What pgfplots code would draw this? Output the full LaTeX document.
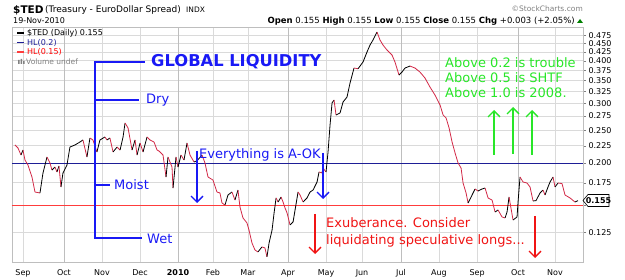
\documentclass[border=0pt]{standalone}
\usepackage{fontspec}
\setmainfont{DejaVu Sans}
\usepackage{pgfplots}
\pgfplotsset{compat=1.18}
\usepackage{pgfplotstable}
\usetikzlibrary{arrows.meta}
\definecolor{annblue}{RGB}{25,25,245}
\definecolor{hlnavy}{RGB}{30,30,150}
\definecolor{hlred}{RGB}{255,60,60}
\definecolor{anngreen}{RGB}{40,230,40}
\definecolor{annred}{RGB}{240,20,20}
\definecolor{tedred}{RGB}{210,40,70}
\definecolor{gridgray}{RGB}{218,218,218}
\definecolor{qgray}{RGB}{190,190,190}

\pgfplotstableread{
x y m
-6.4 0.2260 0
-4.0 0.2214 0
-1.6 0.2111 1
0.0 0.2184 0
1.6 0.2041 0
4.0 0.1973 0
7.2 0.1819 0
9.6 0.1643 0
13.6 0.1632 1
16.0 0.1869 1
19.2 0.2083 0
21.6 0.2000 0
23.2 0.1907 1
25.6 0.1946 0
27.2 0.1882 1
28.8 0.1960 0
30.4 0.1700 1
32.0 0.1869 1
35.2 0.1973 1
37.6 0.2229 1
41.6 0.2260 1
45.6 0.2306 1
48.0 0.2338 0
51.2 0.2083 1
53.6 0.2369 0
56.0 0.2338 0
59.2 0.2155 1
61.6 0.2338 1
65.6 0.2386 0
67.2 0.2338 1
69.6 0.2369 0
72.1 0.2155 1
75.3 0.2229 0
77.7 0.2184 1
80.1 0.2386 1
81.7 0.2623 0
84.1 0.2536 0
87.3 0.2184 1
89.7 0.2338 0
91.3 0.2111 1
93.7 0.2290 0
96.1 0.2155 1
99.3 0.2386 0
101.7 0.2338 0
104.9 0.2306 0
107.3 0.2184 0
108.9 0.2170 0
112.1 0.2111 0
114.5 0.1819 1
116.1 0.2083 0
119.3 0.1946 0
120.1 0.1688 1
122.5 0.2083 0
124.1 0.1946 1
126.5 0.2111 0
128.9 0.2041 1
131.3 0.2290 0
133.7 0.2111 0
136.9 0.2014 1
139.3 0.2030 1
143.3 0.2111 0
145.7 0.2000 0
148.1 0.1819 0
152.1 0.1782 0
155.3 0.1643 0
157.7 0.1632 0
159.3 0.1525 0
161.7 0.1504 1
164.1 0.1610 1
167.3 0.1643 0
169.7 0.1556 1
172.1 0.1665 0
173.7 0.1484 0
176.1 0.1378 0
179.3 0.1332 0
180.9 0.1270 0
183.3 0.1163 0
185.7 0.1109 0
188.1 0.1094 1
191.3 0.1132 0
193.7 0.1124 0
195.3 0.1058 1
197.0 0.1163 1
199.4 0.1270 1
201.0 0.1425 1
202.6 0.1578 0
204.2 0.1535 1
206.6 0.1588 0
208.2 0.1535 0
209.8 0.1474 0
211.4 0.1425 0
213.8 0.1314 1
216.2 0.1341 1
217.8 0.1454 1
220.2 0.1643 0
221.8 0.1610 0
224.2 0.1535 1
227.4 0.1578 1
229.8 0.1643 1
232.2 0.1665 1
235.4 0.1758 1
237.0 0.1882 0
239.4 0.1869 1
240.2 0.1933 0
242.6 0.1882 1
244.2 0.2155 1
245.8 0.2588 1
247.4 0.3004 1
249.0 0.3066 0
250.6 0.2769 1
253.8 0.2807 1
256.2 0.3024 1
259.4 0.3129 1
261.8 0.3440 1
265.0 0.3809 0
268.2 0.3790 1
272.2 0.3967 1
275.4 0.4245 1
277.8 0.4451 1
280.2 0.4605 1
283.4 0.4861 0
285.8 0.4605 0
288.2 0.4451 0
291.4 0.4303 0
295.4 0.4160 0
297.8 0.3967 0
301.0 0.3632 1
303.4 0.3706 1
305.8 0.3809 1
309.8 0.3860 0
313.8 0.3809 0
317.8 0.3706 0
321.8 0.3559 0
325.8 0.3348 0
329.8 0.3171 0
333.9 0.2963 0
336.3 0.2769 0
338.7 0.2714 0
341.1 0.2536 0
343.5 0.2306 0
345.9 0.2140 0
348.3 0.2000 0
350.7 0.1933 0
352.3 0.1746 0
354.7 0.1632 0
356.3 0.1525 1
359.5 0.1610 1
361.9 0.1677 0
364.3 0.1654 1
367.5 0.1677 1
369.9 0.1688 0
372.3 0.1578 0
375.5 0.1556 0
377.9 0.1435 1
380.3 0.1454 0
383.5 0.1387 0
385.9 0.1378 1
387.5 0.1435 1
389.1 0.1588 0
392.3 0.1359 1
395.5 0.1387 1
396.3 0.1535 1
397.9 0.1819 0
400.3 0.1758 0
403.5 0.1746 0
405.9 0.1700 0
408.3 0.1546 1
410.7 0.1550 1
413.9 0.1632 1
416.3 0.1665 0
417.9 0.1610 1
420.3 0.1700 1
421.9 0.1758 1
424.3 0.1819 0
425.9 0.1700 1
428.3 0.1746 0
431.5 0.1740 0
433.9 0.1610 0
437.9 0.1578 0
441.9 0.1535 1
444.3 0.1550 1
}\tedtable

\begin{document}
\begin{tikzpicture}
\useasboundingbox (0,0) rectangle (625pt,279pt);
\begin{axis}[
  at={(12pt,17pt)}, anchor=south west,
  scale only axis, width=571pt, height=235pt,
  xmin=-8.8, xmax=448.3,
  ymode=log, ymin=0.1022, ymax=0.503,
  axis line style={qgray},
  xtick={0,32.8,63.2,93.7,124.1,152.1,180.1,212.2,242.6,271.4,302.6,333.0,363.5,396.3,425.9},
  xticklabels={Sep,Oct,Nov,Dec,\textbf{2010},Feb,Mar,Apr,May,Jun,Jul,Aug,Sep,Oct,Nov},
  ytick={0.125,0.15,0.175,0.2,0.225,0.25,0.275,0.3,0.325,0.35,0.375,0.4,0.425,0.45,0.475},
  yticklabels={0.125,{},0.175,0.200,0.225,0.250,0.275,0.300,0.325,0.350,0.375,0.400,0.425,0.450,0.475},
  yticklabel pos=right, ytick pos=right,
  tick align=outside, major tick length=3pt,
  xtick style={draw=none}, ytick style={draw=gray},
  xmajorgrids, ymajorgrids, grid style={gridgray, line width=0.6pt},
  tick label style={font=\fontsize{8}{9}\selectfont},
  yticklabel style={xshift=-1pt},
  xticklabel style={yshift=-1pt},
  /pgf/number format/assume math mode=true,
  colormap={updown}{color=(tedred) color=(black)},
  clip=true,
]
\addplot[draw=qgray, line width=0.8pt, forget plot] coordinates {(32.8,0.1022) (32.8,0.503)};
\addplot[draw=qgray, line width=0.8pt, forget plot] coordinates {(124.1,0.1022) (124.1,0.503)};
\addplot[draw=qgray, line width=0.8pt, forget plot] coordinates {(212.2,0.1022) (212.2,0.503)};
\addplot[draw=qgray, line width=0.8pt, forget plot] coordinates {(302.6,0.1022) (302.6,0.503)};
\addplot[draw=qgray, line width=0.8pt, forget plot] coordinates {(396.3,0.1022) (396.3,0.503)};
\addplot[hlnavy, line width=0.9pt] coordinates {(-8.8,0.2) (448.3,0.2)};
\addplot[hlred, line width=0.9pt] coordinates {(-8.8,0.15) (448.3,0.15)};
\addplot[mesh, shader=flat corner, point meta=explicit, line width=0.8pt] table[x=x, y=y, meta=m] {\tedtable};
\end{axis}

\begin{scope}[x=1pt, y=-1pt, shift={(0pt,279pt)}]
% header
\node[anchor=west, inner sep=0pt, font=\fontsize{10.5}{12}\selectfont\bfseries] at (13,10) {\$TED};
\node[anchor=west, inner sep=0pt, font=\fontsize{9}{11}\selectfont] at (45,10) {(Treasury - EuroDollar Spread)};
\node[anchor=west, inner sep=0pt, font=\fontsize{7.5}{9}\selectfont] at (186,10) {INDX};
\node[anchor=west, inner sep=0pt, font=\fontsize{8}{9}\selectfont] at (13,21) {19-Nov-2010};
\node[anchor=east, inner sep=0pt, font=\fontsize{7.5}{9}\selectfont, text=gray] at (583,8.5) {©StockCharts.com};
\node[anchor=east, inner sep=0pt, font=\fontsize{8.5}{10}\selectfont] at (575,21) {\textbf{Open} 0.155 \textbf{High} 0.155 \textbf{Low} 0.155 \textbf{Close} 0.155 \textbf{Chg} +0.003 (+2.05\%)};
\fill[green!50!black] (577,23) -- (583,23) -- (580,19) -- cycle;
% legend
\draw[black, line width=1.2pt] (17,33) -- (24,33);
\node[anchor=west, inner sep=0pt, font=\fontsize{8}{9}\selectfont] at (27,33) {\$TED (Daily) 0.155};
\draw[hlnavy, line width=1.2pt] (17,42.5) -- (24,42.5);
\node[anchor=west, inner sep=0pt, font=\fontsize{8}{9}\selectfont, text=hlnavy] at (27,42.5) {HL(0.2)};
\draw[hlred, line width=1.2pt] (17,52) -- (24,52);
\node[anchor=west, inner sep=0pt, font=\fontsize{8}{9}\selectfont, text=red] at (27,52) {HL(0.15)};
\fill[gray] (18,64) rectangle (19.5,60) (20.5,64) rectangle (22,59) (23,64) rectangle (24.5,61);
\node[anchor=west, inner sep=0pt, font=\fontsize{7.5}{9}\selectfont, text=gray] at (26,62) {Volume undef};
% value box
\filldraw[fill=white, draw=black, line width=0.6pt] (583,200.5) -- (588,194.5) -- (609,194.5) -- (609,206.5) -- (588,206.5) -- cycle;
\node[inner sep=0pt, font=\fontsize{8}{9}\selectfont\bfseries] at (598.5,200.7) {0.155};
% global liquidity bracket
\draw[annblue, line width=1.6pt] (95,62) -- (95,238);
\draw[annblue, line width=1.6pt] (94.2,62) -- (145,62);
\draw[annblue, line width=1.6pt] (95,100) -- (139,100);
\draw[annblue, line width=1.6pt] (95,185) -- (110,185);
\draw[annblue, line width=1.6pt] (94.2,238) -- (142,238);
\node[anchor=west, inner sep=0pt, font=\fontsize{16.3}{18}\selectfont\bfseries, text=annblue] at (151,62) {GLOBAL LIQUIDITY};
\node[anchor=west, inner sep=0pt, font=\fontsize{13}{15}\selectfont, text=annblue] at (146,100) {Dry};
\node[anchor=west, inner sep=0pt, font=\fontsize{13}{15}\selectfont, text=annblue] at (114,185) {Moist};
\node[anchor=west, inner sep=0pt, font=\fontsize{13}{15}\selectfont, text=annblue] at (147,239) {Wet};
\node[anchor=west, inner sep=0pt, font=\fontsize{13}{15}\selectfont, text=annblue] at (199,155) {Everything is A-OK};
\draw[annblue, line width=1.3pt, -{Straight Barb[length=6pt, width=12pt, line width=1.3pt]}] (197,151) -- (197,203);
\draw[annblue, line width=1.3pt, -{Straight Barb[length=6pt, width=12pt, line width=1.3pt]}] (323,153) -- (323,199);
% red
\draw[annred, line width=1.4pt, -{Straight Barb[length=6pt, width=12pt, line width=1.4pt]}] (315,214) -- (315,254);
\draw[annred, line width=1.4pt, -{Straight Barb[length=6pt, width=12pt, line width=1.4pt]}] (535,216) -- (535,258);
\node[anchor=west, inner sep=0pt, font=\fontsize{13}{15}\selectfont, text=annred] at (326,223) {Exuberance. Consider};
\node[anchor=west, inner sep=0pt, font=\fontsize{13}{15}\selectfont, text=annred] at (326,241) {liquidating speculative longs...};
% green
\node[anchor=west, inner sep=0pt, font=\fontsize{13}{15}\selectfont, text=anngreen] at (445,63) {Above 0.2 is trouble};
\node[anchor=west, inner sep=0pt, font=\fontsize{13}{15}\selectfont, text=anngreen] at (445,78) {Above 0.5 is SHTF};
\node[anchor=west, inner sep=0pt, font=\fontsize{13}{15}\selectfont, text=anngreen] at (445,93) {Above 1.0 is 2008.};
\draw[anngreen, line width=1.4pt, -{Straight Barb[length=6pt, width=12pt, line width=1.4pt]}] (494,155) -- (494,110);
\draw[anngreen, line width=1.4pt, -{Straight Barb[length=6pt, width=12pt, line width=1.4pt]}] (513,154) -- (513,107);
\draw[anngreen, line width=1.4pt, -{Straight Barb[length=6pt, width=12pt, line width=1.4pt]}] (532,155) -- (532,110);
\end{scope}
\end{tikzpicture}
\end{document}
